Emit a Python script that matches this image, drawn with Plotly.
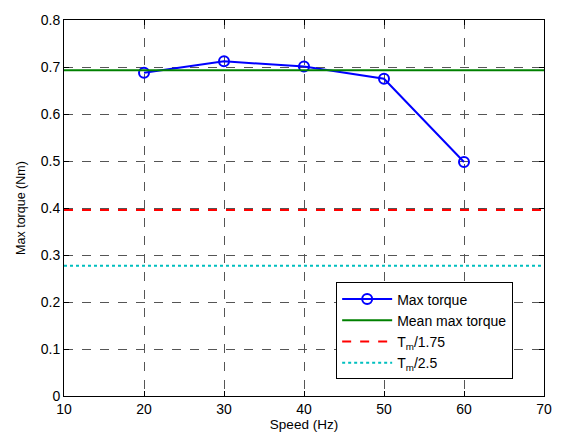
import plotly.graph_objects as go

speed_hz = [20, 30, 40, 50, 60]
max_torque = [0.688, 0.712, 0.701, 0.675, 0.498]
tm = 0.693
x_range = [10, 70]
x_ticks = [10, 20, 30, 40, 50, 60, 70]
y_ticks = [0, 0.1, 0.2, 0.3, 0.4, 0.5, 0.6, 0.7, 0.8]

font = "Liberation Sans, Arial, sans-serif"

fig = go.Figure()
fig.add_trace(go.Scatter(x=speed_hz, y=max_torque, mode="lines+markers", name="Max torque",
                         line=dict(color="#0000ff", width=2),
                         marker=dict(symbol="circle-open", size=10, color="#0000ff", line=dict(width=2))))
fig.add_trace(go.Scatter(x=x_range, y=[tm, tm], mode="lines", name="Mean max torque",
                         line=dict(color="#008000", width=2)))
fig.add_trace(go.Scatter(x=x_range, y=[tm / 1.75, tm / 1.75], mode="lines", name="T<sub>m</sub>/1.75",
                         line=dict(color="#ff0000", width=2, dash="dash")))
fig.add_trace(go.Scatter(x=x_range, y=[tm / 2.5, tm / 2.5], mode="lines", name="T<sub>m</sub>/2.5",
                         line=dict(color="#00bfbf", width=2, dash="dot")))

axis_common = dict(showline=True, linecolor="black", linewidth=1, mirror="ticks",
                   ticks="inside", ticklen=5, tickcolor="black",
                   showgrid=True, gridcolor="#555555", griddash="dash", gridwidth=1,
                   zeroline=False, tickfont=dict(size=14, color="black", family=font))

fig.update_layout(
    width=564, height=440,
    margin=dict(l=64, r=17, t=12, b=44),
    paper_bgcolor="white", plot_bgcolor="white",
    font=dict(family=font, size=13, color="black"),
    xaxis=dict(range=x_range, tickvals=x_ticks, title=dict(text="Speed (Hz)", standoff=2, font=dict(size=13.5)),
               **axis_common),
    yaxis=dict(range=[0, 0.8], tickvals=y_ticks, title=dict(text="Max torque (Nm)", standoff=12, font=dict(size=12.5)),
               **axis_common),
    legend=dict(x=0.567, y=0.302, xanchor="left", yanchor="top",
                bgcolor="white", bordercolor="black", borderwidth=1, itemwidth=50,
                font=dict(size=14, family=font), tracegroupgap=0),
    showlegend=True,
)

fig.write_html("out.html", config={"displayModeBar": False},
               post_script="document.body.style.margin='0';document.body.style.overflow='hidden';")
